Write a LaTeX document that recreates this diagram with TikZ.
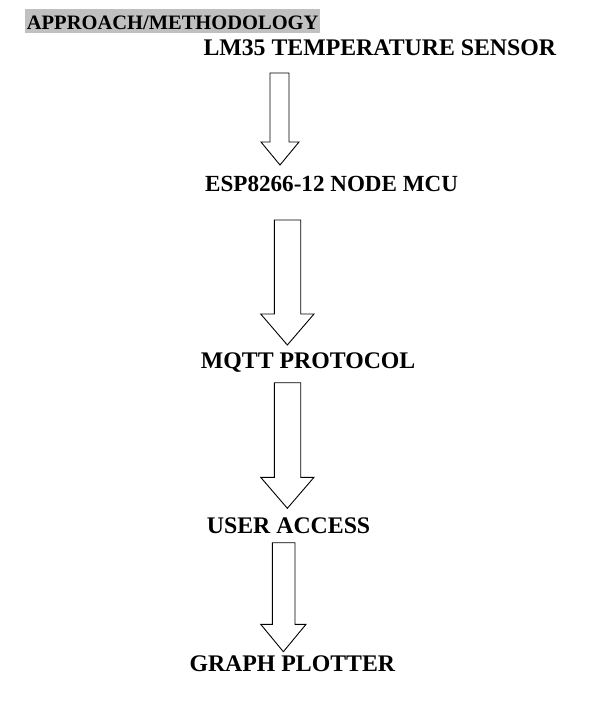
\documentclass[tikz,border=0pt]{standalone}
\usepackage{fontspec}
\setmainfont{Liberation Serif}
\tikzset{
  lbl/.style={anchor=base west, inner sep=0pt, font=\fontsize{23.8}{28}\selectfont\bfseries},
  lblsm/.style={lbl, font=\fontsize{23.1}{28}\selectfont\bfseries},
  ttl/.style={anchor=base west, inner sep=0pt, font=\fontsize{20.5}{24}\selectfont\bfseries},
  blk/.style={draw=black, line width=0.9pt, fill=white, line join=miter}
}
% \blkarrow{shaft left}{shaft right}{wing left}{wing right}{top}{head start}{tip}
\newcommand\blkarrow[7]{%
  \draw[blk] (#1,#5) -- (#2,#5) -- (#2,#6) -- (#4,#6) -- ({(#3+#4)/2},#7) -- (#3,#6) -- (#1,#6) -- cycle;}
\begin{document}
\begin{tikzpicture}[x=1pt,y=-1pt]
\useasboundingbox (0,0) rectangle (614,702);
\fill[fill={rgb,255:red,192;green,192;blue,192}] (25,9.3) rectangle (320,32.7);
\node[ttl] (title) at (26.7,29.3) {APPROACH/METHODOLOGY};
\node[lbl] (lm35) at (203.3,55.7) {LM35 TEMPERATURE SENSOR};
\node[lblsm] (esp) at (205,191.7) {ESP8266-12 NODE MCU};
\node[lbl] (mqtt) at (200.7,368.3) {MQTT PROTOCOL};
\node[lbl] (user) at (206.7,533) {USER ACCESS};
\node[lbl] (graph) at (189.3,671.7) {GRAPH PLOTTER};
\blkarrow{270}{289}{261}{299}{73}{142}{165}
\blkarrow{274.3}{300.7}{260.7}{314}{220}{314}{345}
\blkarrow{274.3}{300.7}{260.7}{314}{382.7}{477.3}{508.3}
\blkarrow{272.3}{295}{260.7}{306}{542.7}{624.3}{651.7}
\end{tikzpicture}
\end{document}
